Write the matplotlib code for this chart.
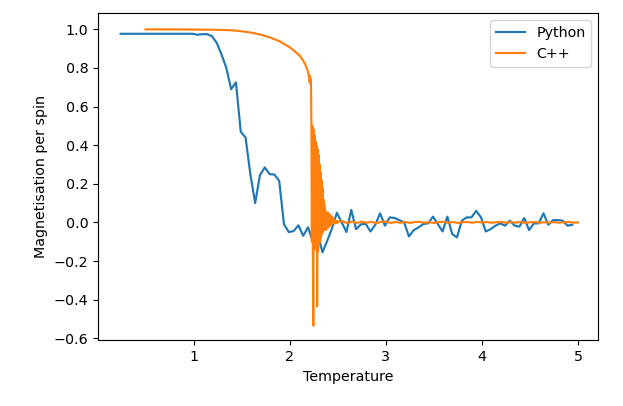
import matplotlib
matplotlib.use("Agg")
import matplotlib.pyplot as plt
import numpy as np

# temperatures used by the python simulation (0.24 .. 4.94, step 0.05)
python_temps = np.round(0.24 + 0.05 * np.arange(95), 2)
python_mag = [
    0.977, 0.977, 0.977, 0.977, 0.977, 0.977, 0.977, 0.977, 0.977, 0.977,
    0.977, 0.977, 0.977, 0.977, 0.977, 0.977, 0.972, 0.975, 0.975, 0.965,
    0.93, 0.87, 0.80, 0.69, 0.725, 0.47, 0.44, 0.25, 0.10, 0.245,
    0.285, 0.25, 0.248, 0.215, -0.01, -0.05, -0.045, -0.015, -0.07, -0.025,
    -0.10, -0.05, -0.155, -0.095, -0.03, 0.05, 0.0, -0.05, 0.065, -0.035,
    -0.01, -0.008, -0.047, -0.012, 0.047, -0.017, 0.026, 0.023, 0.012, 0.0,
    -0.073, -0.04, -0.026, -0.008, -0.005, 0.03, -0.008, -0.047, 0.03, -0.06,
    -0.078, 0.009, 0.026, 0.026, 0.06, 0.026, -0.047, -0.035, -0.017, -0.005,
    -0.017, 0.009, -0.017, -0.022, 0.023, -0.04, -0.005, -0.005, 0.047, -0.012,
    0.012, 0.012, 0.009, -0.017, -0.012,
]

# C++ run: smooth part below Tc
cpp_temps_low = [0.5, 0.8, 1.0, 1.2, 1.4, 1.5, 1.6, 1.7, 1.8, 1.9,
                 2.0, 2.05, 2.1, 2.13, 2.16, 2.18, 2.19, 2.195]
cpp_mag_low = [1.0, 1.0, 0.999, 0.998, 0.995, 0.99, 0.983, 0.972, 0.957, 0.937,
               0.907, 0.887, 0.865, 0.845, 0.82, 0.795, 0.78, 0.77]

# C++ run: around the critical temperature (2.200 .. 2.500, step 0.005)
cpp_temps_crit = np.round(2.2 + 0.005 * np.arange(61), 3)
cpp_mag_crit = [
    0.75, 0.73, 0.76, 0.72, 0.74, 0.52, -0.10, 0.50, -0.15, -0.535,
    0.48, -0.12, 0.45, -0.14, 0.42, -0.10, 0.40, -0.435, 0.38, -0.15,
    0.35, -0.12, 0.30, -0.10, 0.26, -0.08, 0.22, -0.06, 0.18, -0.05,
    0.12, -0.04, 0.09, -0.03, 0.06, -0.04, 0.05, -0.02, 0.04, -0.03,
    0.05, -0.01, 0.03, -0.02, 0.04, 0.0, 0.02, -0.01, 0.03, 0.0,
    0.02, -0.005, 0.015, 0.0, 0.01, -0.005, 0.01, 0.0, 0.008, -0.003,
    0.005,
]

# C++ run: high temperature tail (2.55 .. 5.00, step 0.05)
cpp_temps_high = np.round(2.55 + 0.05 * np.arange(50), 2)
cpp_mag_high = [
    0.006, -0.004, 0.005, -0.003, 0.004, -0.002, 0.003, -0.004, 0.002, 0.004,
    -0.003, 0.002, -0.002, 0.003, -0.003, 0.002, 0.003, -0.002, 0.001, -0.003,
    0.002, 0.003, -0.002, 0.002, -0.003, 0.001, 0.002, -0.002, 0.003, -0.001,
    0.002, -0.002, 0.001, 0.003, -0.002, 0.002, -0.001, 0.002, -0.003, 0.001,
    0.002, -0.002, 0.001, -0.001, 0.002, -0.002, 0.001, 0.002, -0.001, 0.0,
]

cpp_temps = np.concatenate([cpp_temps_low, cpp_temps_crit, cpp_temps_high])
cpp_mag = np.concatenate([cpp_mag_low, cpp_mag_crit, cpp_mag_high])

fig = plt.figure(figsize=(623 / 103, 406 / 103), dpi=103)
ax = fig.add_axes([0.1578, 0.1626, 0.9603 - 0.1578, 0.9672 - 0.1626])

ax.plot(python_temps, python_mag, label="Python")
ax.plot(cpp_temps, cpp_mag, label="C++")

ax.set_xlim(0.008, 5.21)
ax.set_ylim(-0.609, 1.083)
ax.set_xlabel("Temperature")
ax.set_ylabel("Magnetisation per spin")
ax.legend(loc="upper right")

fig.savefig("out.png", dpi=103)
